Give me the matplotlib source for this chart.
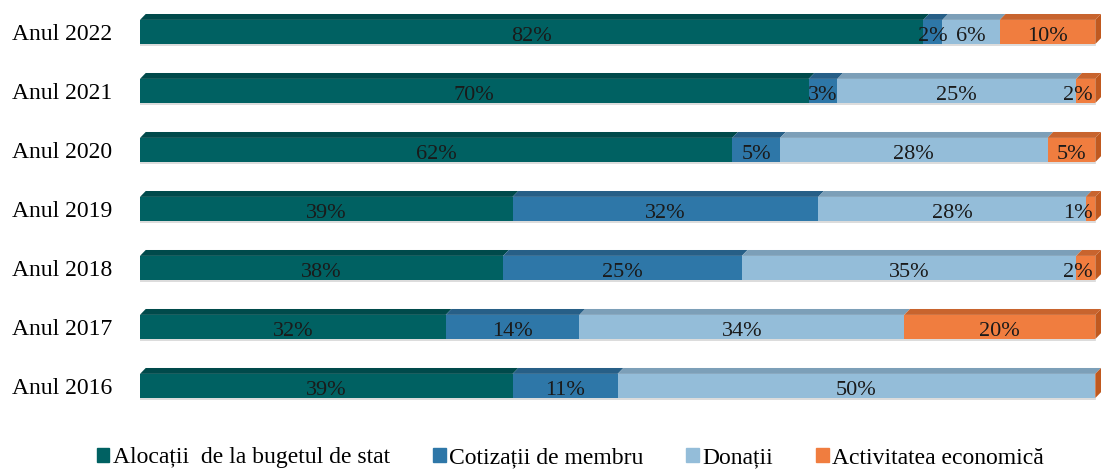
import numpy as np
import matplotlib.pyplot as plt
from matplotlib.patches import Polygon, Patch

years = ["Anul 2016", "Anul 2017", "Anul 2018", "Anul 2019", "Anul 2020", "Anul 2021", "Anul 2022"]
alocatii = [39, 32, 38, 39, 62, 70, 82]
cotizatii = [11, 14, 25, 32, 5, 3, 2]
donatii = [50, 34, 35, 28, 28, 25, 6]
activitate = [0, 20, 2, 1, 5, 2, 10]
series_names = ["Alocații  de la bugetul de stat", "Cotizații de membru", "Donații", "Activitatea economică"]

front = ["#006162", "#2E77A8", "#94BDD9", "#F07D3F"]
topc = ["#004A4B", "#275F87", "#7C9FB8", "#C8642E"]
sidec = ["#00494A", "#245A80", "#7596AD", "#C0591F"]

plt.rcParams['font.family'] = ['Liberation Serif', 'DejaVu Serif']

fig = plt.figure(figsize=(11.01, 4.70), dpi=100)
ax = fig.add_axes([140/1101, 0.116, 961/1101, 0.8787])

data = np.array([alocatii, cotizatii, donatii, activitate], dtype=float)
y = np.arange(len(years))
h = 0.41
dx, dy = 0.6, 0.1

left = np.zeros(len(years))
for i in range(4):
    vals = data[i]
    ax.barh(y, vals, left=left, height=h, color=front[i], edgecolor='none', zorder=2)
    for j in range(len(years)):
        x0, x1 = left[j], left[j] + vals[j]
        top = y[j] + h / 2
        if vals[j] > 0:
            ax.add_patch(Polygon([(x0, top), (x0 + dx, top + dy), (x1 + dx, top + dy), (x1, top)],
                                 closed=True, color=topc[i], lw=0, zorder=3))
            xc = min((x0 + x1) / 2, 98.2)
            ax.text(xc, y[j] - 0.03, f"{int(vals[j])}%", ha='center', va='center_baseline',
                    fontsize=16, color='#1a1a1a', zorder=5)
    left = left + vals

# right end face and bottom shadow
for j in range(len(years)):
    x1 = left[j]
    top = y[j] + h / 2
    bot = y[j] - h / 2
    ax.add_patch(Polygon([(x1, bot), (x1, top), (x1 + dx, top + dy), (x1 + dx, bot + dy)],
                         closed=True, color=sidec[3], lw=0, zorder=3))
    ax.plot([0, x1], [bot - 0.015, bot - 0.015], color='#d5d5d5', lw=1.2, zorder=1)

ax.set_xlim(0, 100.6)
ax.set_ylim(-0.5, 6.5)
ax.set_yticks(y)
ax.set_yticklabels(years, fontsize=17)
ax.tick_params(axis='y', length=0, pad=20)
ax.set_xticks([])
for s in ax.spines.values():
    s.set_visible(False)

handles = [Patch(color=c) for c in front]
fig.legend(handles, series_names, loc='center', bbox_to_anchor=(0.518, 12/470), ncol=4,
           frameon=False, fontsize=17, handlelength=0.55, handleheight=0.55, handletextpad=0.15,
           columnspacing=1.8, borderpad=0, borderaxespad=0)

fig.savefig("out.png", dpi=100)
